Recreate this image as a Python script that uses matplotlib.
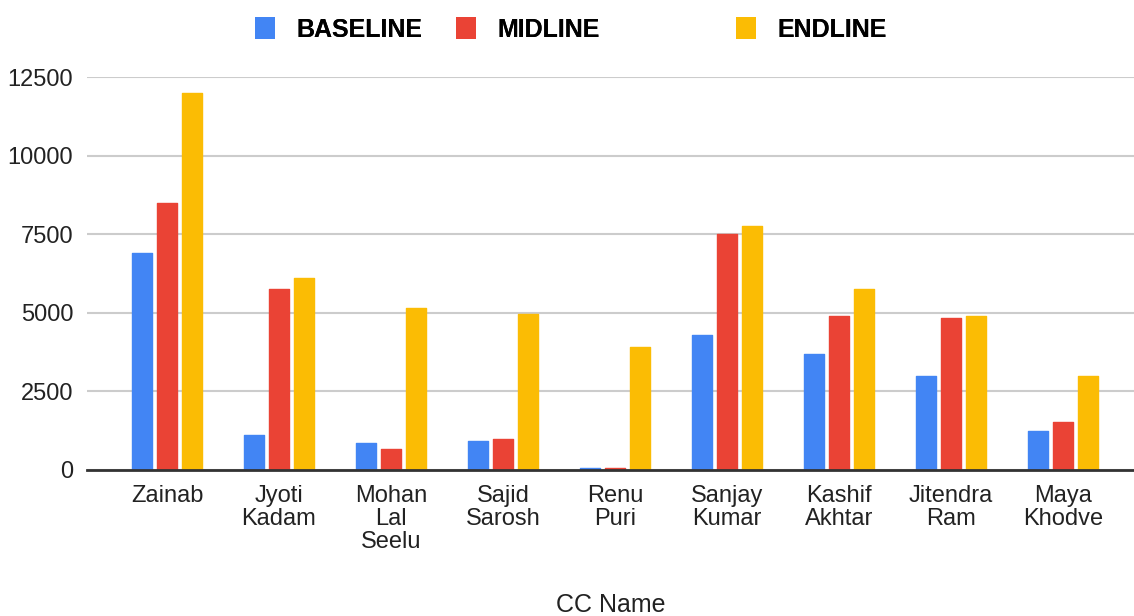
import matplotlib
matplotlib.use("Agg")
import matplotlib.pyplot as plt
import matplotlib.patches as mpatches
import numpy as np

plt.rcParams['font.family'] = ['Liberation Sans', 'DejaVu Sans']

names = ["Zainab", "Jyoti\nKadam", "Mohan\nLal\nSeelu", "Sajid\nSarosh", "Renu\nPuri",
         "Sanjay\nKumar", "Kashif\nAkhtar", "Jitendra\nRam", "Maya\nKhodve"]
baseline = [6900, 1100, 860, 920, 50, 4300, 3700, 3000, 1250]
midline = [8500, 5750, 670, 990, 50, 7500, 4900, 4830, 1530]
endline = [12000, 6100, 5150, 4960, 3900, 7750, 5750, 4900, 3000]
yticks = [0, 2500, 5000, 7500, 10000, 12500]

series = [("BASELINE", baseline, "#4285F4"),
          ("MIDLINE", midline, "#EA4335"),
          ("ENDLINE", endline, "#FBBC04")]

W, H = 1134, 616
fig = plt.figure(figsize=(W / 100, H / 100), dpi=100)
ax = fig.add_axes([87 / W, 1 - 470 / H, (W - 87) / W, (470 - 77) / H])

x = np.arange(len(names))
bw = 0.179
step = 0.223
for i, (label, vals, col) in enumerate(series):
    ax.bar(x + (i - 1) * step, vals, width=bw, color=col, zorder=3,
           edgecolor=col, linewidth=1.0, joinstyle='round')

ax.set_xlim(-0.714, 8.634)
ax.set_ylim(0, 12500)
ax.set_yticks(yticks)
ax.set_yticklabels([str(v) for v in yticks], fontsize=17, color="#222222")
ax.set_xticks(x)
ax.set_xticklabels(names, fontsize=17, color="#222222", linespacing=1.05)
ax.tick_params(axis='both', length=0)
ax.tick_params(axis='y', pad=10)
ax.tick_params(axis='x', pad=11)

ax.yaxis.grid(True, color="#cccccc", linewidth=1.5, zorder=0)
ax.set_axisbelow(True)
for s in ["top", "right", "left"]:
    ax.spines[s].set_visible(False)
ax.spines["bottom"].set_color("#333333")
ax.spines["bottom"].set_linewidth(2)
ax.spines["bottom"].set_zorder(4)

ax.set_xlabel("CC Name", fontsize=18, color="#222222", va="center")
ax.xaxis.set_label_coords(0.5, (470 - 605) / 393)

# legend entries placed one by one to keep the uneven gaps
legend_x = [255, 456, 736]
for (label, vals, col), lx in zip(series, legend_x):
    h = mpatches.Patch(facecolor=col, edgecolor="none")
    leg = fig.legend(handles=[h], labels=[label], loc="upper left",
                     bbox_to_anchor=(lx / W, 1 - 17 / H), frameon=False,
                     borderpad=0, borderaxespad=0, handlelength=0.8,
                     handleheight=1.0, handletextpad=0.85,
                     prop={"size": 18, "weight": "bold"})
    fig.add_artist(leg)

fig.savefig("out.png", dpi=100, facecolor="white")
